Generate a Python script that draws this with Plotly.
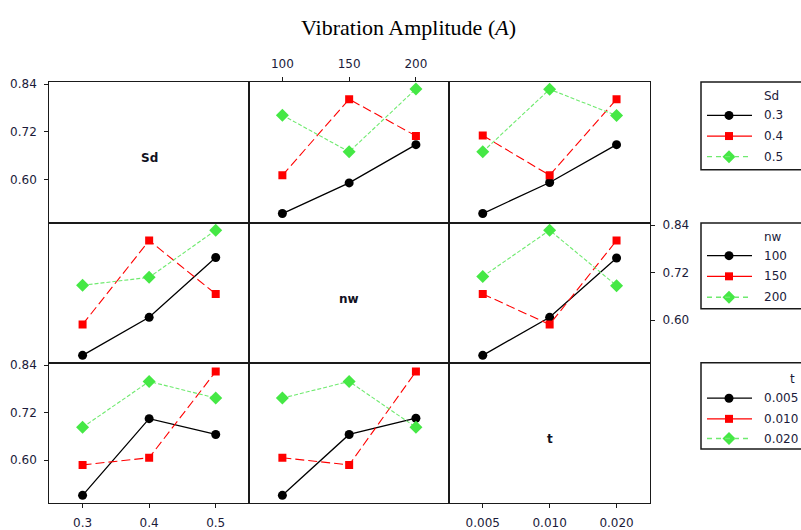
import plotly.graph_objects as go

# ---------------- data ----------------
sd_levels = ["0.3", "0.4", "0.5"]
nw_levels = ["100", "150", "200"]
t_levels = ["0.005", "0.010", "0.020"]

# row Sd: x = nw, one line per Sd level
nw_x_sd03 = [0.515, 0.592, 0.688]
nw_x_sd04 = [0.611, 0.802, 0.710]
nw_x_sd05 = [0.762, 0.670, 0.828]
# row Sd: x = t, one line per Sd level
t_x_sd03 = [0.515, 0.593, 0.688]
t_x_sd04 = [0.711, 0.611, 0.802]
t_x_sd05 = [0.670, 0.827, 0.761]
# row nw: x = Sd, one line per nw level
sd_x_nw100 = [0.511, 0.607, 0.758]
sd_x_nw150 = [0.589, 0.801, 0.666]
sd_x_nw200 = [0.688, 0.708, 0.827]
# row nw: x = t, one line per nw level
t_x_nw100 = [0.511, 0.607, 0.757]
t_x_nw150 = [0.666, 0.589, 0.801]
t_x_nw200 = [0.710, 0.827, 0.687]
# row t: x = Sd, one line per t level
sd_x_t005 = [0.511, 0.705, 0.665]
sd_x_t010 = [0.588, 0.606, 0.824]
sd_x_t020 = [0.683, 0.799, 0.757]
# row t: x = nw, one line per t level
nw_x_t005 = [0.511, 0.665, 0.706]
nw_x_t010 = [0.606, 0.588, 0.824]
nw_x_t020 = [0.757, 0.799, 0.683]

y_tickvals = [0.60, 0.72, 0.84]
y_ticktext = ["0.60", "0.72", "0.84"]
factor_names = ["Sd", "nw", "t"]
factor_levels = [sd_levels, nw_levels, t_levels]
title_text = "Vibration Amplitude (<i>A</i>)"

panels = {
    (0, 1): [nw_x_sd03, nw_x_sd04, nw_x_sd05],
    (0, 2): [t_x_sd03, t_x_sd04, t_x_sd05],
    (1, 0): [sd_x_nw100, sd_x_nw150, sd_x_nw200],
    (1, 2): [t_x_nw100, t_x_nw150, t_x_nw200],
    (2, 0): [sd_x_t005, sd_x_t010, sd_x_t020],
    (2, 1): [nw_x_t005, nw_x_t010, nw_x_t020],
}

# ---------------- layout geometry / style ----------------
W, H = 801, 530
col_px = [(49.3, 249.0), (249.0, 449.3), (449.3, 650.0)]
row_px = [(78.3, 221.7), (221.7, 364.3), (364.3, 506.7)]
YR = [0.4914, 0.8454]
TICK_FONT = dict(family="DejaVu Sans", size=12, color="#1b1b3a")
BORDER = "#1a1a1a"

styles = [
    dict(line=dict(color="#000000", width=1.3, dash="solid"),
         marker=dict(symbol="circle", size=9, color="#000000")),
    dict(line=dict(color="#ff0000", width=1.1, dash="9px,4px"),
         marker=dict(symbol="square", size=8, color="#ff0000")),
    dict(line=dict(color="#6fea6f", width=1.1, dash="4px,2px"),
         marker=dict(symbol="diamond", size=10, color="#45e845")),
]


def sfx(k):
    return "" if k == 1 else str(k)


fig = go.Figure()
layout = dict(
    width=W, height=H, margin=dict(l=0, r=0, t=0, b=0),
    paper_bgcolor="white", plot_bgcolor="rgba(0,0,0,0)", showlegend=False,
)

for r in range(3):
    for c in range(3):
        k = r * 3 + c + 1
        xa = dict(
            domain=[col_px[c][0] / W, col_px[c][1] / W],
            anchor=f"y{sfx(k)}", type="category", categoryorder="array",
            categoryarray=factor_levels[c], range=[-0.5, 2.5],
            showline=True, mirror=True, linecolor=BORDER, linewidth=1.2,
            showgrid=False, zeroline=False, ticks="", showticklabels=False,
            tickfont=TICK_FONT, fixedrange=True,
        )
        ya = dict(
            domain=[1 - row_px[r][1] / H, 1 - row_px[r][0] / H],
            anchor=f"x{sfx(k)}", range=YR,
            showline=True, mirror=True, linecolor=BORDER, linewidth=1.2,
            showgrid=False, zeroline=False, ticks="", showticklabels=False,
            tickvals=y_tickvals, ticktext=y_ticktext, tickfont=TICK_FONT,
            fixedrange=True,
        )
        if (r, c) in [(0, 0), (2, 0)]:
            ya.update(ticks="outside", ticklen=4, tickcolor=BORDER,
                      showticklabels=True, side="left", ticklabelstandoff=5)
        if (r, c) == (1, 2):
            ya.update(ticks="outside", ticklen=4, tickcolor=BORDER,
                      showticklabels=True, side="right", ticklabelstandoff=5)
        if (r, c) == (0, 1):
            xa.update(ticks="outside", ticklen=4, tickcolor=BORDER,
                      showticklabels=True, side="top", ticklabelstandoff=4)
        if (r, c) in [(2, 0), (2, 2)]:
            xa.update(ticks="outside", ticklen=4, tickcolor=BORDER,
                      showticklabels=True, side="bottom", ticklabelstandoff=4)
        layout[f"xaxis{sfx(k)}"] = xa
        layout[f"yaxis{sfx(k)}"] = ya

        if (r, c) in panels:
            for s, yvals in enumerate(panels[(r, c)]):
                fig.add_trace(go.Scatter(
                    x=factor_levels[c], y=yvals, mode="lines+markers",
                    line=styles[s]["line"], marker=styles[s]["marker"],
                    xaxis=f"x{sfx(k)}", yaxis=f"y{sfx(k)}", hoverinfo="x+y",
                ))
        else:
            # diagonal panel: empty trace so the subplot frame is drawn
            fig.add_trace(go.Scatter(
                x=factor_levels[c], y=[None] * len(factor_levels[c]),
                mode="lines", xaxis=f"x{sfx(k)}", yaxis=f"y{sfx(k)}",
                hoverinfo="skip",
            ))

# pixel overlay axis for legends / labels
layout["xaxis10"] = dict(domain=[0, 1], range=[0, W], visible=False,
                         anchor="y10", fixedrange=True)
layout["yaxis10"] = dict(domain=[0, 1], range=[H, 0], visible=False,
                         anchor="x10", fixedrange=True)

annotations = []
shapes = []

# diagonal labels
for i, name in enumerate(factor_names):
    k = i * 3 + i + 1
    annotations.append(dict(
        text=f"<b>{name}</b>", xref=f"x{sfx(k)} domain", yref=f"y{sfx(k)} domain",
        x=0.5, y=0.46, showarrow=False,
        font=dict(family="DejaVu Sans", size=12, color="#111122"),
    ))

# title
annotations.append(dict(
    text=title_text, xref="x10", yref="y10", x=408, y=23, showarrow=False,
    font=dict(family="Liberation Serif", size=22, color="#000000"),
))

# legends
legend_boxes = [
    dict(top=78.3, bottom=167.7, title_y=92.3, rows=[112.3, 133.3, 154.3]),
    dict(top=221.7, bottom=309.0, title_y=235.7, rows=[255.0, 276.0, 297.3]),
    dict(top=364.0, bottom=451.7, title_y=380.7, rows=[400.0, 421.0, 441.0]),
]
legend_line_styles = ["solid", "solid", "5px,4px"]
for b, box in enumerate(legend_boxes):
    shapes.append(dict(type="rect", xref="x10", yref="y10",
                       x0=701, x1=820, y0=box["top"], y1=box["bottom"],
                       line=dict(color=BORDER, width=1.5), fillcolor="rgba(0,0,0,0)"))
    levels = factor_levels[b]
    label_right = {0: 781, 1: 784, 2: 797}[b]
    annotations.append(dict(
        text=factor_names[b], xref="x10", yref="y10", x=label_right,
        y=box["title_y"], xanchor="right", showarrow=False,
        font=dict(family="DejaVu Sans", size=12, color="#1b1b3a"),
    ))
    for s, yy in enumerate(box["rows"]):
        shapes.append(dict(type="line", xref="x10", yref="y10",
                           x0=707, x1=752, y0=yy, y1=yy,
                           line=dict(color=styles[s]["line"]["color"], width=1.3,
                                     dash=legend_line_styles[s])))
        fig.add_trace(go.Scatter(
            x=[729], y=[yy], mode="markers", marker=styles[s]["marker"],
            xaxis="x10", yaxis="y10", hoverinfo="skip", cliponaxis=False,
        ))
        annotations.append(dict(
            text=levels[s], xref="x10", yref="y10", x=762, y=yy,
            xanchor="left", showarrow=False, font=TICK_FONT,
        ))

layout["annotations"] = annotations
layout["shapes"] = shapes
fig.update_layout(**layout)
fig.write_html("out.html", config={"displayModeBar": False},
               post_script="document.body.style.margin='0';document.body.style.overflow='hidden';")
